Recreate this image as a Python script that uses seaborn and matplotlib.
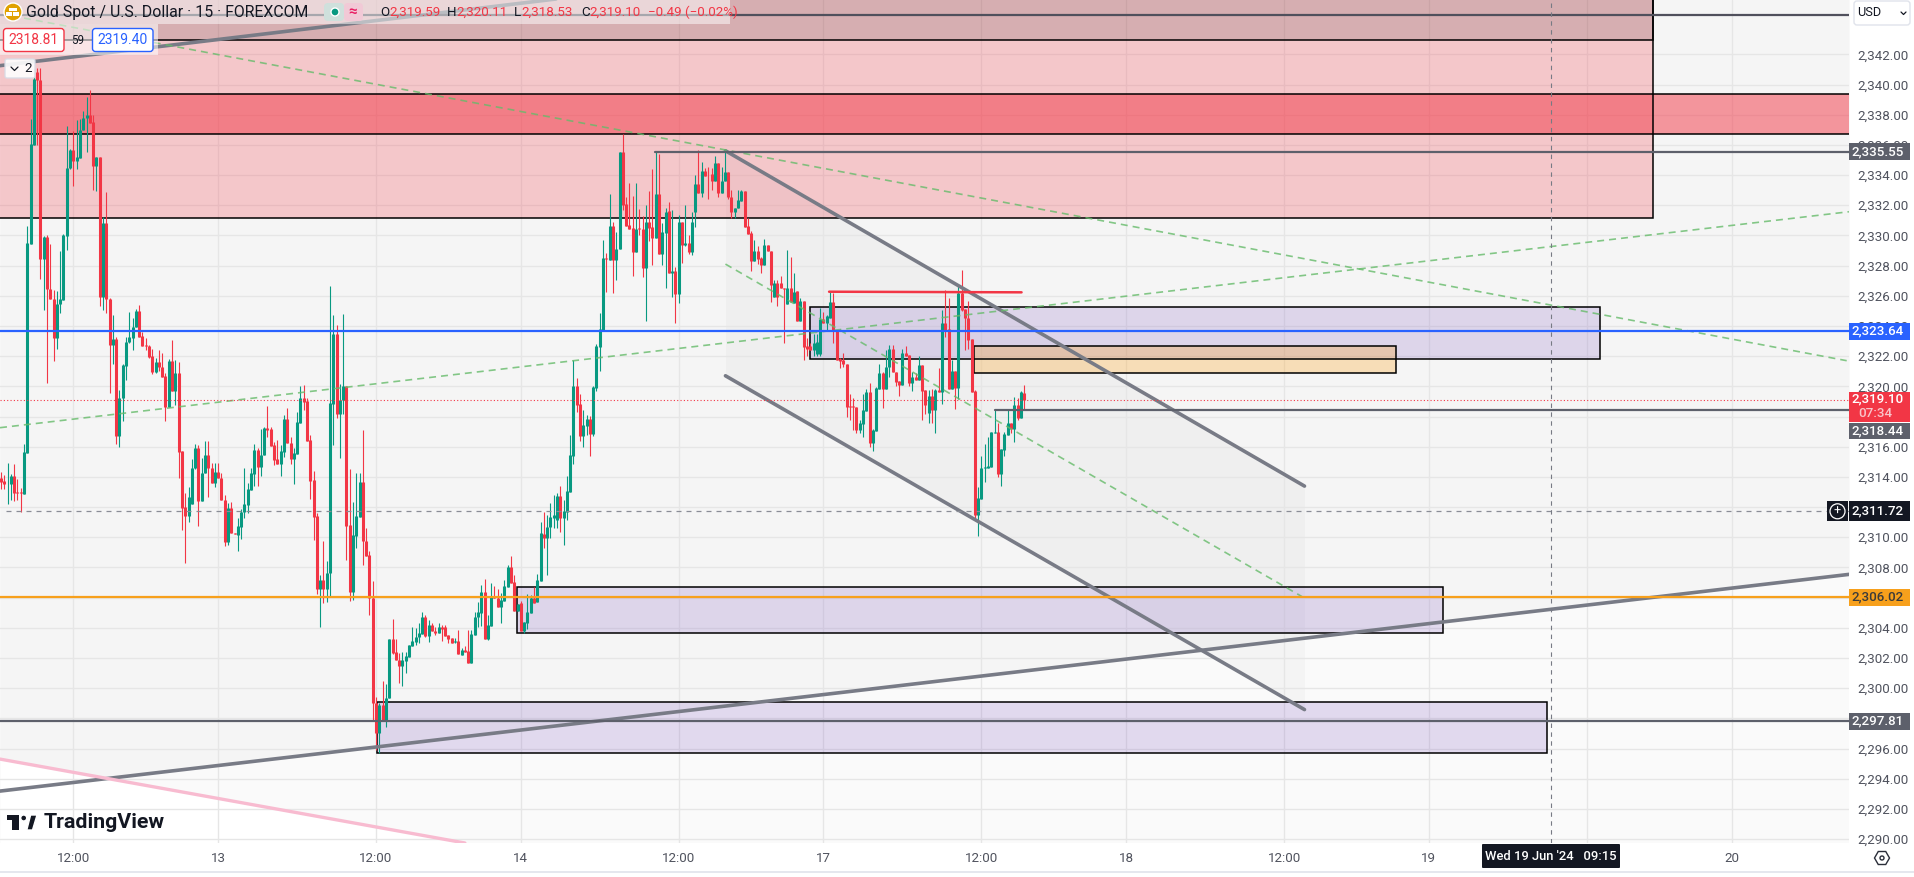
import numpy as np
import pandas as pd
import matplotlib
matplotlib.use("Agg")
import matplotlib.pyplot as plt
import seaborn as sns
from matplotlib.patches import Rectangle, FancyBboxPatch, Circle, Polygon, RegularPolygon

# 15 minute candles, one value per bar
opens = [
    2313.9,2313.7,2313.5,2313.5,2314.05,2313.0,2313.0,2312.87,2315.6,2329.45,
    2336.0,2340.8,2340.3,2328.43,2329.9,2326.45,2325.8,2323.23,2325.44,2325.75,
    2329.95,2334.44,2335.65,2334.93,2335.15,2336.98,2337.75,2337.97,2337.5,2334.6,
    2335.2,2325.95,2330.8,2325.77,2322.74,2323.12,2316.73,2319.2,2321.37,2322.92,
    2323.23,2323.9,2325.0,2323.34,2322.74,2322.68,2322.0,2320.95,2321.6,2321.26,
    2320.69,2318.61,2321.68,2319.7,2320.86,2315.7,2311.98,2311.41,2312.2,2314.57,
    2315.9,2312.43,2314.24,2315.45,2314.57,2313.62,2314.3,2313.9,2312.5,2309.7,
    2311.92,2310.26,2310.15,2310.7,2311.7,2312.14,2313.13,2314.2,2315.78,2314.68,
    2315.45,2317.22,2317.17,2316.1,2315.16,2314.86,2315.67,2317.84,2316.23,2315.19,
    2315.5,2317.55,2319.21,2319.05,2316.45,2313.8,2311.41,2306.6,2307.16,2306.6,
    2307.6,2318.84,2323.47,2318.2,2319.1,2320.03,2310.81,2306.39,2310.08,2311.36,
    2313.68,2309.75,2308.82,2306.0,2299.0,2297.0,2298.88,2297.89,2299.37,2303.25,
    2302.41,2301.86,2301.49,2301.82,2302.08,2302.79,2303.08,2303.36,2303.58,2304.73,
    2303.47,2304.18,2303.81,2303.67,2304.03,2304.03,2303.52,2303.3,2303.05,2303.12,
    2302.2,2302.53,2302.46,2301.69,2303.52,2304.69,2305.0,2306.39,2303.25,2304.11,
    2306.1,2306.0,2305.35,2305.8,2306.72,2308.05,2307.03,2305.13,2305.62,2303.81,
    2304.34,2305.0,2306.0,2305.73,2307.12,2310.21,2309.93,2310.65,2311.3,2311.14,
    2312.73,2311.3,2311.69,2313.02,2315.38,2320.02,2318.83,2316.71,2317.36,2317.83,
    2316.84,2319.86,2322.63,2323.73,2328.5,2328.37,2330.62,2328.37,2329.08,2335.55,
    2332.08,2330.69,2330.47,2328.92,2330.47,2330.42,2327.82,2330.86,2330.58,2329.85,
    2332.74,2328.77,2330.18,2331.62,2327.49,2327.62,2326.12,2330.87,2329.36,2329.47,
    2328.92,2331.53,2333.41,2332.79,2334.27,2334.0,2334.05,2333.63,2334.78,2332.79,
    2333.63,2334.22,2332.52,2331.57,2331.79,2332.3,2332.94,2330.62,2330.14,2328.33,
    2328.97,2328.48,2328.04,2329.36,2328.97,2325.94,2326.87,2326.87,2326.53,2325.45,
    2326.49,2325.5,2326.31,2324.35,2325.65,2322.67,2322.67,2322.4,2322.14,2322.14,
    2324.44,2324.17,2324.5,2325.6,2323.73,2321.79,2321.77,2321.48,2318.7,2318.7,
    2318.65,2317.1,2317.48,2318.39,2319.6,2316.27,2317.04,2319.85,2320.86,2319.85,
    2321.3,2322.47,2320.97,2320.35,2320.09,2322.19,2322.07,2320.24,2320.64,2320.42,
    2321.41,2319.76,2318.26,2319.36,2318.43,2319.76,2319.65,2324.22,2323.78,2319.82,
    2321.02,2319.91,2326.21,2325.1,2324.55,2323.14,2319.69,2311.47,2312.53,2314.57,
    2314.6,2314.64,2316.9,2316.95,2314.19,2315.78,2316.8,2317.6,2317.17,2318.76,
    2317.9,2319.59,
]
highs = [
    2314.35,2314.1,2314.95,2314.2,2314.85,2313.85,2313.25,2316.2,2330.6,2337.7,
    2341.0,2341.07,2341.07,2329.95,2330.0,2329.4,2326.4,2326.3,2328.95,2330.1,
    2337.25,2335.7,2336.9,2337.65,2337.7,2338.25,2339.15,2339.63,2338.0,2335.2,
    2335.2,2331.2,2332.85,2325.85,2324.73,2323.3,2319.76,2321.45,2323.3,2324.9,
    2324.5,2325.1,2325.4,2323.6,2323.2,2322.74,2322.45,2321.86,2322.41,2322.2,
    2320.86,2321.8,2323.07,2321.75,2321.64,2315.7,2312.9,2313.3,2315.2,2316.2,
    2316.1,2315.25,2316.4,2316.4,2314.95,2314.9,2314.95,2314.28,2312.8,2312.25,
    2312.36,2310.3,2311.3,2311.9,2314.6,2313.6,2314.57,2316.18,2315.9,2317.2,
    2317.33,2318.7,2317.33,2316.34,2316.45,2316.1,2318.1,2318.55,2316.67,2315.9,
    2318.3,2320.0,2320.1,2319.2,2316.8,2314.4,2311.6,2307.5,2309.75,2308.43,
    2326.65,2324.73,2324.07,2320.16,2324.8,2320.03,2314.5,2312.36,2314.24,2314.28,
    2317.1,2310.6,2309.09,2307.1,2299.43,2299.03,2300.47,2300.27,2303.25,2304.58,
    2303.25,2302.3,2302.37,2302.41,2302.86,2304.03,2303.96,2304.29,2305.02,2304.84,
    2304.51,2304.34,2304.07,2304.34,2304.18,2304.18,2303.52,2303.3,2303.3,2303.85,
    2302.64,2302.79,2303.85,2303.85,2305.07,2305.68,2306.83,2307.23,2304.84,2306.94,
    2306.79,2306.57,2306.28,2307.16,2308.16,2308.75,2307.5,2305.57,2305.8,2304.4,
    2306.24,2306.17,2306.72,2307.56,2311.03,2311.69,2311.47,2312.29,2312.8,2312.91,
    2313.39,2312.46,2314.08,2316.77,2321.74,2320.57,2319.49,2318.43,2318.1,2318.05,
    2320.02,2322.8,2324.83,2329.7,2328.81,2332.74,2330.9,2330.2,2335.55,2336.72,
    2332.57,2333.45,2332.61,2333.45,2331.75,2331.28,2332.0,2332.97,2334.38,2335.55,
    2335.37,2330.8,2331.8,2332.24,2331.68,2327.93,2331.35,2330.87,2332.0,2330.03,
    2331.57,2334.0,2335.66,2334.89,2334.44,2334.55,2334.44,2335.26,2334.78,2334.55,
    2335.55,2334.22,2333.0,2331.79,2333.0,2333.01,2332.94,2331.13,2330.31,2329.7,
    2329.3,2328.59,2329.74,2329.36,2328.97,2327.05,2327.05,2327.33,2326.53,2329.03,
    2328.59,2327.49,2326.31,2325.83,2325.65,2323.2,2322.9,2323.5,2323.5,2325.17,
    2324.9,2324.7,2326.27,2326.16,2323.73,2321.85,2322.18,2321.48,2319.5,2319.2,
    2318.65,2317.8,2319.5,2319.8,2320.2,2317.2,2319.93,2321.46,2320.97,2322.4,
    2322.74,2322.74,2320.97,2320.35,2322.47,2322.67,2322.07,2320.97,2320.86,2322.01,
    2321.41,2319.76,2319.76,2319.8,2319.85,2321.2,2325.06,2326.38,2325.83,2321.75,
    2321.02,2326.65,2327.71,2325.1,2325.68,2323.14,2319.76,2313.35,2315.38,2316.2,
    2316.66,2317.0,2318.43,2317.55,2315.83,2316.95,2318.43,2317.6,2319.27,2319.2,
    2319.7,2320.11,
]
lows = [
    2313.2,2313.2,2312.2,2312.5,2312.4,2312.45,2311.7,2312.87,2315.6,2329.45,
    2336.0,2336.0,2327.1,2325.06,2320.25,2325.8,2321.7,2322.5,2324.85,2325.75,
    2329.03,2334.4,2333.3,2334.4,2335.15,2336.98,2335.55,2337.42,2333.0,2332.94,
    2325.33,2325.05,2324.84,2319.58,2321.5,2316.2,2316.0,2317.73,2320.4,2322.9,
    2322.4,2323.9,2323.3,2322.7,2322.4,2321.86,2320.82,2320.86,2321.04,2320.64,
    2317.73,2318.61,2319.7,2318.77,2313.93,2310.5,2308.3,2311.04,2312.2,2314.5,
    2310.75,2312.4,2314.24,2312.7,2313.62,2313.3,2313.9,2312.47,2309.4,2309.5,
    2310.26,2310.2,2309.1,2309.9,2311.3,2311.6,2313.13,2313.4,2313.4,2314.06,
    2315.45,2316.67,2316.07,2314.8,2314.86,2314.06,2315.34,2316.23,2314.86,2313.53,
    2315.5,2317.55,2318.4,2316.4,2312.55,2309.8,2306.23,2304.07,2305.66,2305.7,
    2306.05,2316.1,2317.88,2315.28,2318.17,2308.5,2305.77,2305.83,2309.27,2311.36,
    2308.16,2308.75,2304.84,2297.89,2295.9,2295.72,2297.89,2297.4,2299.37,2302.26,
    2301.86,2300.36,2300.16,2300.98,2302.08,2302.79,2302.86,2302.97,2303.58,2303.36,
    2303.08,2303.81,2303.52,2303.67,2303.14,2303.45,2303.0,2303.0,2303.0,2302.24,
    2302.2,2302.41,2301.69,2301.69,2303.52,2304.07,2304.11,2303.25,2303.19,2304.11,
    2306.0,2305.35,2304.29,2305.8,2306.72,2306.99,2305.13,2305.13,2303.81,2303.63,
    2303.9,2305.0,2305.66,2305.73,2307.12,2309.26,2307.5,2309.92,2310.6,2310.6,
    2310.37,2309.48,2311.14,2313.02,2314.85,2318.32,2316.37,2316.0,2316.77,2315.38,
    2316.71,2319.71,2321.04,2323.73,2326.27,2328.37,2326.2,2327.04,2329.08,2331.68,
    2330.62,2330.4,2327.33,2328.92,2330.0,2327.27,2324.3,2329.6,2328.04,2329.85,
    2328.77,2328.04,2326.54,2327.49,2325.94,2324.22,2325.54,2328.15,2329.3,2328.77,
    2328.7,2330.53,2332.79,2332.52,2333.94,2332.39,2333.01,2333.63,2332.52,2332.79,
    2333.63,2332.4,2331.13,2331.13,2331.79,2332.3,2330.58,2330.09,2327.66,2328.33,
    2328.1,2327.53,2328.04,2328.97,2325.61,2325.94,2325.34,2326.49,2322.85,2325.45,
    2325.61,2325.5,2324.35,2324.35,2321.74,2322.0,2322.4,2322.0,2322.0,2322.0,
    2324.17,2323.7,2324.5,2322.85,2321.74,2321.2,2321.3,2317.98,2317.77,2317.1,
    2316.9,2316.9,2316.65,2318.39,2316.0,2315.74,2317.04,2319.85,2318.59,2319.85,
    2320.64,2320.97,2320.0,2319.36,2320.09,2322.03,2320.02,2319.71,2320.42,2320.42,
    2317.77,2318.2,2317.55,2317.6,2316.93,2319.65,2318.83,2323.29,2319.82,2319.8,
    2318.48,2319.14,2325.0,2322.41,2322.45,2319.6,2311.2,2310.1,2312.53,2313.68,
    2314.6,2314.64,2316.9,2314.0,2313.42,2315.38,2316.8,2316.89,2316.33,2317.8,
    2317.9,2318.53,
]
closes = [
    2313.64,2313.5,2313.55,2314.05,2312.95,2312.95,2312.95,2315.63,2329.47,2336.05,
    2340.36,2340.3,2328.43,2329.9,2326.43,2325.8,2323.23,2325.44,2325.8,2330.02,
    2334.44,2335.65,2334.93,2335.2,2336.98,2337.75,2337.97,2337.47,2334.6,2335.2,
    2325.95,2330.8,2325.77,2322.74,2323.12,2316.73,2319.21,2321.42,2322.96,2323.3,
    2323.96,2325.0,2323.3,2322.7,2322.68,2321.97,2320.95,2321.6,2321.26,2320.64,
    2318.61,2321.68,2319.7,2320.86,2315.65,2311.94,2311.41,2312.69,2314.57,2315.9,
    2312.43,2314.24,2315.45,2314.57,2313.62,2314.3,2313.9,2312.47,2309.7,2311.92,
    2310.26,2310.24,2310.75,2311.7,2312.2,2313.18,2314.28,2315.78,2314.68,2315.45,
    2317.22,2317.1,2316.07,2315.12,2314.86,2315.72,2317.84,2316.23,2315.19,2315.56,
    2317.62,2319.21,2318.99,2316.4,2313.75,2311.36,2306.6,2307.16,2306.6,2307.6,
    2318.88,2323.47,2318.2,2319.1,2320.03,2310.75,2306.39,2310.15,2311.41,2313.68,
    2309.75,2308.78,2306.0,2299.03,2297.0,2298.88,2297.89,2299.37,2303.25,2302.3,
    2301.86,2301.49,2301.86,2302.13,2302.86,2303.12,2303.41,2303.63,2304.69,2303.47,
    2304.18,2303.81,2303.67,2304.07,2303.94,2303.45,2303.25,2303.01,2303.1,2302.24,
    2302.53,2302.41,2301.69,2303.58,2304.69,2305.02,2306.39,2303.25,2304.18,2306.1,
    2306.0,2305.35,2305.84,2306.77,2308.05,2306.99,2305.13,2305.57,2303.81,2304.4,
    2305.04,2305.95,2305.66,2307.16,2310.26,2309.93,2310.65,2311.32,2311.47,2312.75,
    2311.3,2311.74,2313.04,2315.45,2320.02,2318.76,2316.71,2317.41,2317.83,2316.84,
    2319.97,2322.67,2323.78,2328.48,2328.42,2330.62,2328.37,2329.08,2335.55,2332.0,
    2330.62,2330.4,2328.92,2330.42,2330.42,2327.82,2330.86,2330.5,2329.85,2332.74,
    2328.77,2330.25,2331.57,2327.49,2327.62,2326.12,2330.87,2329.36,2329.47,2328.92,
    2330.91,2333.41,2332.79,2334.27,2333.94,2333.98,2333.63,2334.78,2332.79,2333.63,
    2334.22,2332.52,2331.57,2331.79,2332.35,2332.94,2330.58,2330.09,2328.33,2328.97,
    2328.44,2328.04,2329.36,2328.97,2326.71,2326.82,2325.94,2326.49,2326.42,2326.49,
    2325.61,2326.27,2324.35,2325.65,2322.58,2322.45,2322.4,2322.9,2322.96,2324.44,
    2324.17,2324.66,2325.6,2323.69,2321.74,2321.7,2321.48,2318.65,2318.65,2318.6,
    2317.1,2317.55,2318.43,2319.6,2316.27,2317.1,2319.87,2320.86,2319.85,2321.3,
    2322.47,2320.97,2320.3,2320.09,2322.19,2322.03,2320.24,2320.64,2320.42,2321.41,
    2319.71,2318.76,2319.36,2318.43,2319.76,2319.65,2324.22,2323.73,2319.82,2321.02,
    2319.91,2326.21,2325.06,2324.55,2323.07,2319.65,2311.47,2312.58,2314.57,2314.64,
    2314.7,2316.95,2316.95,2314.19,2315.83,2316.84,2317.6,2317.17,2318.76,2317.9,
    2319.62,2319.10,
]

# price axis and time axis, a blank label where the platform hides it behind a badge
price_ticks = list(range(2290, 2344, 2))
hidden_prices = [2306, 2312, 2318]
time_ticks = [22, 66, 114, 158, 206, 250, 298, 342, 390, 434, 482, 526]
time_labels = ["12:00", "13", "12:00", "14", "12:00", "17", "12:00", "18", "12:00", "19", "", "20"]

# horizontal levels: price, first bar
level_blue = 2323.64
level_orange = 2306.02
level_gray_low = 2297.81
level_gray_top = 2344.6
level_gray_mid = (2335.55, 198.8)
level_gray_near = (2318.44, 302)
last_price = 2319.10
cross_price = 2311.72
cross_bar = 471.2

# zones: first bar, last bar, low price, high price
zone_pink = (-1, 502.2, 2331.13, 2347)
zone_dark = (-1, 502.2, 2342.93, 2347)
zone_band = (-1, 563, 2336.7, 2339.39)
zone_purple = [(245.9, 486.1, 2321.79, 2325.24), (156.9, 438.2, 2303.63, 2306.68), (114.2, 470, 2295.68, 2299.1)]
zone_orange = (295.7, 424, 2320.86, 2322.65)

# drawn lines: bars, prices
channel_bars = [220.2, 396.2]
channel_top = [2335.61, 2313.39]
channel_low = [2320.70, 2298.58]
channel_mid = [2328.1, 2305.97]
rise_bars = [-0.3, 561.7]
rise_low = [2293.18, 2307.54]
rise_top_bars = [-0.3, 170]
rise_top = [2341.25, 2345.7]
pink_bars = [-0.3, 141]
pink_line = [2295.3, 2289.74]
dash_up = [2317.26, 2331.57]
dash_down_bars = [7, 561.0]
dash_down = [2344.4, 2321.7]
red_bars = [251.7, 310.2]
red_line = [2326.27, 2326.23]

GREEN = "#089981"
RED = "#f23645"
GRAY = "#5d606b"
TREND = "#787b86"
DASH_GREEN = "#66bb6a"

sns.set_theme(style="white")
plt.rcParams["font.family"] = ["Roboto", "DejaVu Sans"]

W, H = 1915, 877
fig = plt.figure(figsize=(W / 100, H / 100), dpi=100, facecolor="white")
ax = fig.add_axes([0, (H - 843) / H, 1849 / W, 843 / H])
ax.set_facecolor("#fafafa")
for s in ax.spines.values():
    s.set_visible(False)

ax.set_axisbelow(True)
ax.grid(True, color="#e6e6e6", lw=1)

# panel shading behind the grid
ax.fill_between(rise_bars, rise_low, 2346, color="#f5f5f5", lw=0, zorder=0.1)
ax.fill_between(pink_bars, pink_line, 2289, color="white", lw=0, zorder=0.2)
ax.fill_between(channel_bars, channel_low, channel_top, color="black", alpha=0.022, lw=0, zorder=0.3)


def zone(z, color, alpha, edge=True, z_order=1):
    ax.add_patch(Rectangle((z[0], z[2]), z[1] - z[0], z[3] - z[2], facecolor=color, alpha=alpha, lw=0, zorder=z_order))
    if edge:
        ax.add_patch(Rectangle((z[0], z[2]), z[1] - z[0], z[3] - z[2], fill=False, edgecolor="black", lw=1.1, zorder=z_order + 0.1))


zone(zone_pink, RED, 0.24)
zone(zone_dark, "black", 0.12)
zone(zone_band, RED, 0.5)
for z in zone_purple:
    zone(z, "#7e57c2", 0.2)
zone(zone_orange, "#ff9800", 0.25)


def seg(xs, ys, color, lw, z_order=4, **kw):
    sns.lineplot(x=xs, y=ys, color=color, lw=lw, sort=False, estimator=None, zorder=z_order, legend=False, ax=ax, **kw)


# candles: wick and body as vertical segments per bar
bars = np.arange(len(closes))
df = pd.DataFrame({"bar": bars, "open": opens, "high": highs, "low": lows, "close": closes})
df["side"] = np.where(df["close"] >= df["open"], "up", "down")
wicks = df.melt(id_vars=["bar", "side"], value_vars=["low", "high"], value_name="price").sort_values(["bar", "variable"])
bodies = df.melt(id_vars=["bar", "side"], value_vars=["open", "close"], value_name="price").sort_values(["bar", "variable"])
pal = {"up": GREEN, "down": RED}
sns.lineplot(data=wicks, x="bar", y="price", hue="side", units="bar", estimator=None, sort=False,
             palette=pal, lw=0.8, legend=False, zorder=3, solid_capstyle="butt", ax=ax)
sns.lineplot(data=bodies, x="bar", y="price", hue="side", units="bar", estimator=None, sort=False,
             palette=pal, lw=2.2, legend=False, zorder=3.1, solid_capstyle="butt", ax=ax)

# trend lines and levels
seg(rise_bars, rise_low, TREND, 2.6)
seg(rise_top_bars, rise_top, TREND, 2.6)
seg(pink_bars, pink_line, "#f8bbd0", 2.4)
seg(channel_bars, channel_top, TREND, 2.6)
seg(channel_bars, channel_low, TREND, 2.6)
seg(channel_bars, channel_mid, DASH_GREEN, 1.2, linestyle=(0, (4.2, 3)), alpha=0.8)
seg(rise_bars, dash_up, DASH_GREEN, 1.2, linestyle=(0, (4.2, 3)), alpha=0.8)
seg(dash_down_bars, dash_down, DASH_GREEN, 1.2, linestyle=(0, (4.2, 3)), alpha=0.8)
seg(red_bars, red_line, RED, 1.8)
seg(rise_bars, [level_blue] * 2, "#2962ff", 1.6)
seg(rise_bars, [level_orange] * 2, "#f7a01c", 1.6)
seg(rise_bars, [level_gray_low] * 2, GRAY, 1.6)
seg(rise_bars, [level_gray_top] * 2, "#50505c", 1.6)
seg([level_gray_mid[1], rise_bars[1]], [level_gray_mid[0]] * 2, GRAY, 1.6)
seg([level_gray_near[1], rise_bars[1]], [level_gray_near[0]] * 2, GRAY, 1.6)
seg(rise_bars, [last_price] * 2, RED, 0.8, linestyle=(0, (1, 2)))
seg([1.5, rise_bars[1]], [cross_price] * 2, "#8a8d96", 0.9, linestyle=(0, (4, 4)))
seg([cross_bar, cross_bar], [2289.74, 2345.6], "#777a84", 0.8, linestyle=(0, (4, 4)))

ax.set_xlim(-0.3, 561.7)
ax.set_ylim(2289.74, 2345.6)
ax.set_xlabel("")
ax.set_ylabel("")
ax.set_yticks(price_ticks)
ax.set_yticklabels(["" if p in hidden_prices else f"{p:,.2f}" for p in price_ticks])
ax.set_xticks(time_ticks)
ax.set_xticklabels(time_labels)
ax.yaxis.tick_right()
ax.tick_params(axis="y", length=0, pad=6.2, labelsize=9.6, labelcolor="#50535e")
ax.tick_params(axis="x", length=0, pad=6.5, labelsize=9.6, labelcolor="#50535e")

# overlay in pixel coordinates for the platform's own labels
ov = fig.add_axes([0, 0, 1, 1], zorder=10)
ov.set_xlim(0, W)
ov.set_ylim(H, 0)
ov.axis("off")
ov.patch.set_alpha(0)


def box(x0, y0, x1, y1, fc, ec="none", lw=0, alpha=1, r=0):
    if r:
        p = FancyBboxPatch((x0, y0), x1 - x0, y1 - y0, boxstyle=f"round,pad=0,rounding_size={r}", fc=fc, ec=ec, lw=lw, alpha=alpha)
    else:
        p = Rectangle((x0, y0), x1 - x0, y1 - y0, fc=fc, ec=ec, lw=lw, alpha=alpha)
    ov.add_patch(p)


def label(x, y, s, color="#131722", size=9.6, ha="left", weight="normal"):
    ov.text(x, y, s, color=color, fontsize=size, ha=ha, va="center", fontweight=weight)


def price_y(p):
    return H - ax.transData.transform((0, p))[1]


def badge(y, s, fc, fg="white"):
    box(1849, y - 8.4, 1910, y + 8.4, fc)
    label(1904, y, s, fg, ha="right", weight="medium")


badge(price_y(2335.55), "2,335.55", GRAY)
badge(price_y(level_blue), "2,323.64", "#2962ff")
badge(price_y(level_orange), "2,306.02", "#f7a01c", "#3a3a3a")
badge(price_y(level_gray_low), "2,297.81", GRAY)
yl = price_y(last_price)
box(1849, yl - 8, 1910, yl + 22.5, RED)
label(1904, yl - 0.5, "2,319.10", "white", ha="right", weight="medium")
label(1858, yl + 13.5, "07:34", "#f9c4c9", weight="medium")
# the platform pushes this badge below the last price badge
badge(yl + 31, "2,318.44", GRAY)
yc = price_y(cross_price)
box(1849, yc - 10, 1910, yc + 10, "#131722")
label(1904, yc - 0.5, "2,311.72", "white", ha="right", weight="medium")
box(1827, yc - 10, 1848, yc + 10, "#131722")
ov.add_patch(Circle((1837.5, yc), 7.5, fc="none", ec="white", lw=0.9))
label(1837.5, yc - 0.3, "+", "white", size=9, ha="center")

# USD box and settings icon
box(1854, 1, 1910, 25, "white", ec="#e0e3eb", lw=1, r=3)
label(1857, 12.5, "USD", "#131722", size=9.2)
ov.plot([1901, 1903.5, 1906], [12, 14.5, 12], color="#131722", lw=0.9)
ov.add_patch(RegularPolygon((1882, 858), 6, radius=7.5, orientation=np.pi / 2, fc="none", ec="#2a2e39", lw=1))
ov.add_patch(Circle((1882, 858), 2, fc="none", ec="#2a2e39", lw=1))

# bottom strip
ov.plot([0, W], [872, 872], color="#e0e3eb", lw=1.2)
box(1482, 844, 1620, 868, "#131722", r=1)
label(1551, 856, "Wed 19 Jun '24   09:15", "white", size=9.4, ha="center", weight="medium")

# symbol header
box(0, 0, 730, 24, "white", alpha=0.5)
box(0, 24, 158, 55, "white", alpha=0.55)
ov.add_patch(Circle((13, 12), 9, fc="#e0a100"))
box(9, 8, 17, 11, "white")
box(6.5, 12, 12.5, 15.5, "white")
box(13.5, 12, 19.5, 15.5, "white")
label(26, 12.5, "Gold Spot / U.S. Dollar · 15 · FOREXCOM", "#131722", size=11.4)
box(324, 3, 344, 21, "#cfe0dc", r=4)
box(344, 3, 363, 21, "#f1c9d6", r=4)
ov.add_patch(Circle((335, 12), 4, fc=GREEN))
label(353, 12, "≈", "#e91e63", size=11, ha="center", weight="bold")
for x, k, v in [(380, "O", "2,319.59"), (447, "H", "2,320.11"), (514, "L", "2,318.53"), (581, "C", "2,319.10")]:
    t = ov.text(x, 12.5, k, color="#131722", fontsize=9.6, va="center")
    ov.annotate(v, xy=(1, 0.5), xycoords=t, va="center", color=RED, fontsize=9.6)
label(648, 12.5, "−0.49 (−0.02%)", RED)

# buy/sell boxes
box(3.5, 28.5, 64, 51.5, "white", ec=RED, lw=1, r=3)
label(33.7, 40.5, "2318.81", RED, ha="center", size=10)
label(78, 40.5, "59", "#131722", ha="center", size=8.4)
box(92.5, 28.5, 153, 51.5, "white", ec="#2962ff", lw=1, r=3)
label(123, 40.5, "2319.40", "#2962ff", ha="center", size=10)
box(5, 59, 35, 78, "white", ec="#d8dce6", lw=1, r=2, alpha=0.9)
ov.plot([11, 14.5, 18], [67, 70.5, 67], color="#131722", lw=0.9)
label(24, 68.5, "2", "#131722", size=9.6)

# TradingView logo
box(7, 815, 19, 820, "#131722")
box(12.5, 815, 19, 830, "#131722")
ov.add_patch(Circle((23.7, 818), 3, fc="#131722"))
ov.add_patch(Polygon([(26.8, 830), (32.5, 830), (37, 815), (30.6, 815)], fc="#131722"))
label(44, 823, "TradingView", "#131722", size=15.4, weight="bold")

assert len(opens) == len(highs) == len(lows) == len(closes) == 312
fig.savefig("out.png", dpi=100)
